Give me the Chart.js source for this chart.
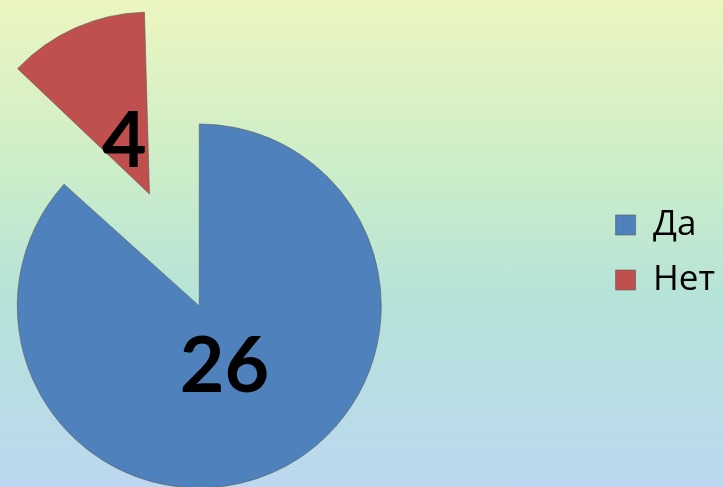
<!DOCTYPE html>
<html>
<head>
<meta charset="utf-8">
<script src="https://cdn.jsdelivr.net/npm/chart.js@4.4.1/dist/chart.umd.min.js"></script>
<style>
  html, body { margin: 0; padding: 0; width: 723px; height: 487px; overflow: hidden; }
  body {
    position: relative;
    background: linear-gradient(to bottom, #ecf6bf 0%, #c9ecca 38%, #b5e3da 62%, #bcd7ef 100%);
  }
  /* canvas is wider than the page so the pie sits left of the legend */
  #wrap { position: absolute; left: -197px; top: 0; width: 922px; height: 487px; }
</style>
</head>
<body>
<div id="wrap"><canvas id="pieChart"></canvas></div>
<script>
const categories = ['Да', 'Нет'];
const answers = [26, 4];

// arc offset in Chart.js also grows the radius of narrow slices, undo that
const keepRadius = {
    id: 'keepRadius',
    beforeDatasetsDraw(chart) {
        const meta = chart.getDatasetMeta(0);
        const R = meta.controller.outerRadius;
        meta.data.forEach(arc => {
            const off = (arc.options.offset || 0) / 4;
            const fix = 1 - Math.sin(Math.min(Math.PI, arc.circumference));
            arc.outerRadius = R - off * fix;
        });
    }
};

// big numbers inside the slices
const sliceLabels = {
    id: 'sliceLabels',
    afterDatasetsDraw(chart) {
        const ctx = chart.ctx;
        const meta = chart.getDatasetMeta(0);
        const R = meta.controller.outerRadius;
        ctx.save();
        ctx.font = 'bold 77px Lato';
        ctx.fillStyle = '#000';
        ctx.textAlign = 'center';
        ctx.textBaseline = 'middle';
        meta.data.forEach((arc, i) => {
            const mid = (arc.startAngle + arc.endAngle) / 2;
            const dist = (arc.options.offset || 0) / 4 + R * 0.34;
            ctx.fillText(String(answers[i]), arc.x + Math.cos(mid) * dist, arc.y + Math.sin(mid) * dist + 5);
        });
        ctx.restore();
    }
};

new Chart(document.getElementById('pieChart'), {
    type: 'pie',
    data: {
        labels: categories,
        datasets: [{
            data: answers,
            backgroundColor: ['#4f81bd', '#c0504d'],
            borderColor: 'rgba(90, 90, 90, 0.6)',
            borderWidth: 1,
            offset: [0, 490]
        }]
    },
    options: {
        responsive: true,
        maintainAspectRatio: false,
        animation: false,
        events: [],
        radius: 182,
        cutout: '0%',
        layout: { padding: { top: 187.5, bottom: 62.5, left: 0, right: 0 } },
        plugins: {
            tooltip: { enabled: false },
            legend: {
                position: 'right',
                align: 'start',
                labels: {
                    color: '#000',
                    font: { family: 'Open Sans', size: 35 },
                    boxWidth: 20,
                    boxHeight: 20,
                    padding: 20
                }
            }
        }
    },
    plugins: [keepRadius, sliceLabels]
});
</script>
</body>
</html>
